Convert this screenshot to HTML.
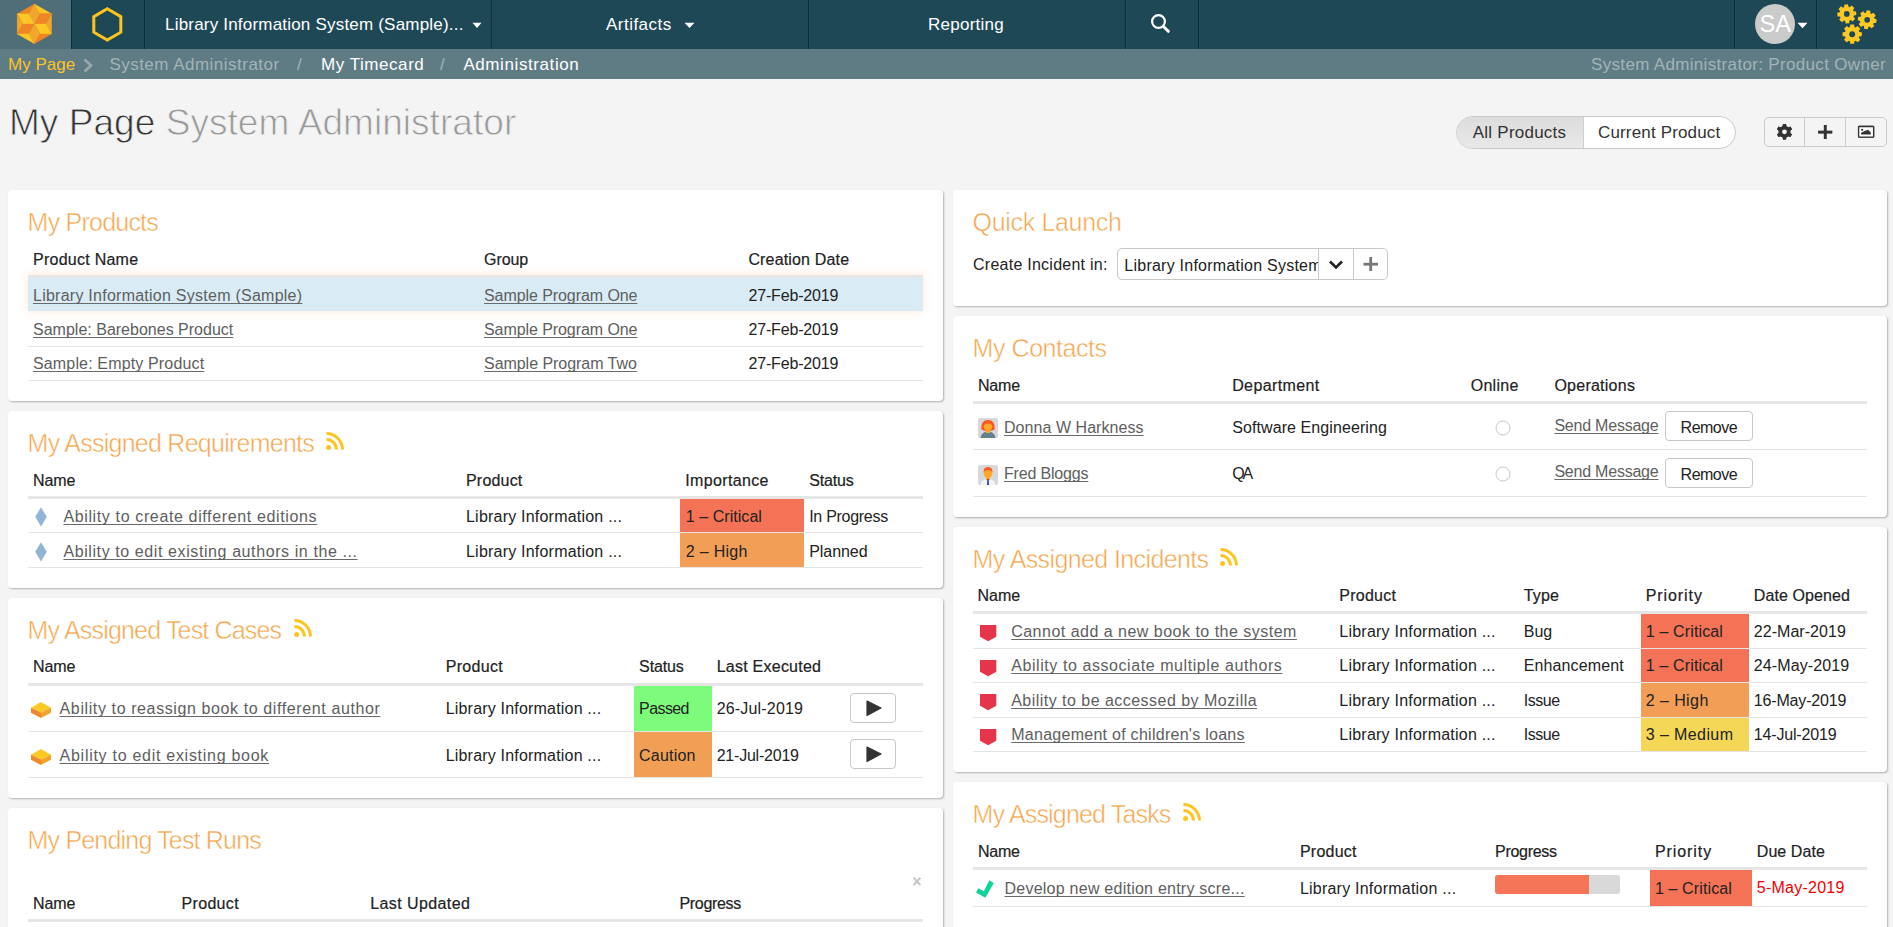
<!DOCTYPE html><html><head><meta charset="utf-8"><style>
html,body{margin:0;padding:0;}
body{width:1893px;height:927px;overflow:hidden;background:#f4f4f4;position:relative;font-family:"Liberation Sans",sans-serif;}
.a{position:absolute;}
.t{position:absolute;white-space:nowrap;}
.lk{text-decoration:underline;text-decoration-color:#6a6a6a;text-underline-offset:2px;text-decoration-skip-ink:none;}
.hd{-webkit-text-stroke:0.2px #222;}
.panel{position:absolute;background:#fff;border-radius:4px;box-shadow:1px 1px 2px rgba(0,0,0,0.28);}
</style></head><body>
<div class="a" style="left:0px;top:0px;width:1893px;height:49px;background:#1f4857;"></div>
<div class="a" style="left:0px;top:0px;width:71px;height:49px;background:#4f6e78;"></div>
<div class="a" style="left:71px;top:0px;width:1px;height:49px;background:#07303e;"></div>
<div class="a" style="left:144px;top:0px;width:1px;height:49px;background:#07303e;"></div>
<div class="a" style="left:145px;top:0px;width:1px;height:49px;background:#224c5a;"></div>
<div class="a" style="left:491px;top:0px;width:1px;height:49px;background:#07303e;"></div>
<div class="a" style="left:492px;top:0px;width:1px;height:49px;background:#224c5a;"></div>
<div class="a" style="left:808px;top:0px;width:1px;height:49px;background:#07303e;"></div>
<div class="a" style="left:809px;top:0px;width:1px;height:49px;background:#224c5a;"></div>
<div class="a" style="left:1125px;top:0px;width:1px;height:49px;background:#07303e;"></div>
<div class="a" style="left:1126px;top:0px;width:1px;height:49px;background:#224c5a;"></div>
<div class="a" style="left:1198px;top:0px;width:1px;height:49px;background:#07303e;"></div>
<div class="a" style="left:1199px;top:0px;width:1px;height:49px;background:#224c5a;"></div>
<div class="a" style="left:1734px;top:0px;width:1px;height:49px;background:#07303e;"></div>
<div class="a" style="left:1735px;top:0px;width:1px;height:49px;background:#224c5a;"></div>
<div class="a" style="left:1816px;top:0px;width:1px;height:49px;background:#07303e;"></div>
<div class="a" style="left:1817px;top:0px;width:1px;height:49px;background:#224c5a;"></div>
<svg class="a" style="left:10px;top:0px" width="50" height="49" viewBox="0 0 50 49"><polygon points="24.4,4.0 7.2,13.7 18.7,13.7" fill="#f08524" stroke="#f08524" stroke-width="0.3"/><polygon points="24.4,4.0 18.7,13.7 24.4,23.9 30.1,13.7" fill="#f3a62c" stroke="#f3a62c" stroke-width="0.3"/><polygon points="24.4,4.0 41.6,13.7 30.1,13.7" fill="#fdc724" stroke="#fdc724" stroke-width="0.3"/><polygon points="7.2,13.7 18.7,13.7 24.4,23.9 12.9,23.9" fill="#fdc724" stroke="#fdc724" stroke-width="0.3"/><polygon points="30.1,13.7 41.6,13.7 35.9,23.9 24.4,23.9" fill="#f08524" stroke="#f08524" stroke-width="0.3"/><polygon points="7.2,13.7 12.9,23.9 7.2,33.9" fill="#f3a62c" stroke="#f3a62c" stroke-width="0.3"/><polygon points="41.6,13.7 41.6,33.9 35.9,23.9" fill="#f3a62c" stroke="#f3a62c" stroke-width="0.3"/><polygon points="12.9,23.9 24.4,23.9 18.7,33.9 7.2,33.9" fill="#f08524" stroke="#f08524" stroke-width="0.3"/><polygon points="24.4,23.9 35.9,23.9 41.6,33.9 30.1,33.9" fill="#fdc724" stroke="#fdc724" stroke-width="0.3"/><polygon points="24.4,23.9 30.1,33.9 24.4,43.8 18.7,33.9" fill="#f3a62c" stroke="#f3a62c" stroke-width="0.3"/><polygon points="7.2,33.9 18.7,33.9 24.4,43.8" fill="#fdc724" stroke="#fdc724" stroke-width="0.3"/><polygon points="30.1,33.9 41.6,33.9 24.4,43.8" fill="#f08524" stroke="#f08524" stroke-width="0.3"/></svg>
<svg class="a" style="left:88px;top:0px" width="40" height="49" viewBox="0 0 40 49"><polygon points="19.30,8.80 32.81,16.60 32.81,32.20 19.30,40.00 5.79,32.20 5.79,16.60" fill="none" stroke="#fdc41e" stroke-width="3"/></svg>
<div class="t" style="left:165px;top:15.61px;font-size:17px;line-height:17px;color:#fff;letter-spacing:0.2px;">Library Information System (Sample)...</div>
<svg class="a" style="left:472px;top:22px" width="10" height="7" viewBox="0 0 10 7"><polygon points="0.5,0.8 9.5,0.8 5,6" fill="#fff"/></svg>
<div class="t" style="left:606px;top:15.61px;font-size:17px;line-height:17px;color:#fff;letter-spacing:0.48px;">Artifacts</div>
<svg class="a" style="left:684px;top:22px" width="11" height="7" viewBox="0 0 11 7"><polygon points="0.5,0.8 10.5,0.8 5.5,6" fill="#fff"/></svg>
<div class="t" style="left:928px;top:15.61px;font-size:17px;line-height:17px;color:#fff;letter-spacing:0.26px;">Reporting</div>
<svg class="a" style="left:1148px;top:12px" width="26" height="24" viewBox="0 0 26 24"><circle cx="10.5" cy="9.5" r="6.4" fill="none" stroke="#fff" stroke-width="2.2"/><line x1="15.2" y1="14.2" x2="20.3" y2="19.3" stroke="#fff" stroke-width="3" stroke-linecap="round"/></svg>
<div class="a" style="left:1755px;top:4px;width:40px;height:40px;border-radius:50%;background:#cbcbcb;"></div>
<div class="t" style="left:1759.5px;top:13.11px;font-size:23.5px;line-height:23.5px;color:#fff;letter-spacing:0px;">SA</div>
<svg class="a" style="left:1797px;top:22px" width="11" height="7" viewBox="0 0 11 7"><polygon points="0.5,0.8 10.5,0.8 5.5,6.2" fill="#fff"/></svg>
<svg class="a" style="left:1830px;top:0px" width="50" height="49" viewBox="0 0 50 49"><path d="M23.76,11.70 L26.22,12.03 L26.22,15.77 L23.76,16.10 L23.27,17.26 L24.78,19.23 L22.13,21.88 L20.16,20.37 L19.00,20.86 L18.67,23.32 L14.93,23.32 L14.60,20.86 L13.44,20.37 L11.47,21.88 L8.82,19.23 L10.33,17.26 L9.84,16.10 L7.38,15.77 L7.38,12.03 L9.84,11.70 L10.33,10.54 L8.82,8.57 L11.47,5.92 L13.44,7.43 L14.60,6.94 L14.93,4.48 L18.67,4.48 L19.00,6.94 L20.16,7.43 L22.13,5.92 L24.78,8.57 L23.27,10.54Z" fill="#fcc823" transform="rotate(-4 16.799999999999955 13.9)"/><circle cx="16.799999999999955" cy="13.9" r="2.88" fill="#1f4857"/><path d="M44.08,17.62 L46.52,17.95 L46.52,21.65 L44.08,21.98 L43.61,23.13 L45.10,25.08 L42.48,27.70 L40.53,26.21 L39.38,26.68 L39.05,29.12 L35.35,29.12 L35.02,26.68 L33.87,26.21 L31.92,27.70 L29.30,25.08 L30.79,23.13 L30.32,21.98 L27.88,21.65 L27.88,17.95 L30.32,17.62 L30.79,16.47 L29.30,14.52 L31.92,11.90 L33.87,13.39 L35.02,12.92 L35.35,10.48 L39.05,10.48 L39.38,12.92 L40.53,13.39 L42.48,11.90 L45.10,14.52 L43.61,16.47Z" fill="#fcc823" transform="rotate(8 37.200000000000045 19.8)"/><circle cx="37.200000000000045" cy="19.8" r="2.85" fill="#1f4857"/><path d="M29.30,31.95 L31.81,32.29 L31.81,36.11 L29.30,36.45 L28.81,37.63 L30.35,39.64 L27.64,42.35 L25.63,40.81 L24.45,41.30 L24.11,43.81 L20.29,43.81 L19.95,41.30 L18.77,40.81 L16.76,42.35 L14.05,39.64 L15.59,37.63 L15.10,36.45 L12.59,36.11 L12.59,32.29 L15.10,31.95 L15.59,30.77 L14.05,28.76 L16.76,26.05 L18.77,27.59 L19.95,27.10 L20.29,24.59 L24.11,24.59 L24.45,27.10 L25.63,27.59 L27.64,26.05 L30.35,28.76 L28.81,30.77Z" fill="#fcc823" transform="rotate(0 22.200000000000045 34.2)"/><circle cx="22.200000000000045" cy="34.2" r="2.94" fill="#1f4857"/></svg>
<div class="a" style="left:0px;top:49px;width:1893px;height:30px;background:#5f7c85;"></div>
<div class="t" style="left:8px;top:55.81px;font-size:17px;line-height:17px;color:#fdc326;letter-spacing:0px;">My Page</div>
<svg class="a" style="left:82px;top:58px" width="12" height="15" viewBox="0 0 12 15"><polyline points="2.5,1.5 9,7.5 2.5,13.5" fill="none" stroke="#9aa9ab" stroke-width="2.6"/></svg>
<div class="t" style="left:109.4px;top:55.81px;font-size:17px;line-height:17px;color:#a3b3b6;letter-spacing:0.48px;">System Administrator</div>
<div class="t" style="left:297px;top:55.81px;font-size:17px;line-height:17px;color:#a3b3b6;letter-spacing:0px;">/</div>
<div class="t" style="left:321px;top:55.81px;font-size:17px;line-height:17px;color:#fff;letter-spacing:0.55px;">My Timecard</div>
<div class="t" style="left:440px;top:55.81px;font-size:17px;line-height:17px;color:#a3b3b6;letter-spacing:0px;">/</div>
<div class="t" style="left:463.4px;top:55.81px;font-size:17px;line-height:17px;color:#fff;letter-spacing:0.59px;">Administration</div>
<div class="t" style="right:7px;top:55.81px;font-size:17px;line-height:17px;color:#a3b3b6;letter-spacing:0.33px;">System Administrator: Product Owner</div>
<div class="t" style="left:9px;top:103.98px;font-size:37px;line-height:37px;letter-spacing:0.05px;color:#333;-webkit-text-stroke:0.8px #f4f4f4;">My Page <span style="color:#999">System Administrator</span></div>
<div class="a" style="left:1456px;top:116px;width:278px;height:31px;border:1px solid #c9c9c9;border-radius:17px;background:#fff;overflow:hidden;"><div class="a" style="left:0;top:0;width:126px;height:31px;background:linear-gradient(#dcdcdc,#e9e9e9);border-right:1px solid #d0d0d0;"></div></div>
<div class="t" style="left:1472.8px;top:123.81px;font-size:17px;line-height:17px;color:#333;letter-spacing:0.23px;">All Products</div>
<div class="t" style="left:1598px;top:123.81px;font-size:17px;line-height:17px;color:#333;letter-spacing:0.16px;">Current Product</div>
<div class="a" style="left:1764px;top:117px;width:121px;height:28px;border:1px solid #cbcbcb;border-radius:5px;"></div>
<div class="a" style="left:1804px;top:118px;width:1px;height:28px;background:#cbcbcb;"></div>
<div class="a" style="left:1845px;top:118px;width:1px;height:28px;background:#cbcbcb;"></div>
<svg class="a" style="left:1774px;top:121px" width="21" height="21" viewBox="0 0 21 21"><path d="M8.65,5.30 L8.94,3.06 L12.06,3.06 L12.35,5.30 L14.34,6.45 L16.43,5.58 L17.99,8.28 L16.19,9.65 L16.19,11.95 L17.99,13.32 L16.43,16.02 L14.34,15.15 L12.35,16.30 L12.06,18.54 L8.94,18.54 L8.65,16.30 L6.66,15.15 L4.57,16.02 L3.01,13.32 L4.81,11.95 L4.81,9.65 L3.01,8.28 L4.57,5.58 L6.66,6.45Z" fill="#333"/><circle cx="10.5" cy="10.8" r="5.68" fill="#333"/><circle cx="10.5" cy="10.8" r="2.4" fill="#f4f4f4"/></svg>
<svg class="a" style="left:1816px;top:123px" width="19" height="19" viewBox="0 0 19 19"><rect x="7.9" y="2" width="2.6" height="14" fill="#333"/><rect x="2.2" y="7.8" width="14" height="2.6" fill="#333"/></svg>
<svg class="a" style="left:1856px;top:124px" width="20" height="16" viewBox="0 0 20 16"><rect x="2.6" y="2.5" width="15" height="10.7" rx="0.6" fill="#fff" stroke="#333" stroke-width="1.3"/><circle cx="6.2" cy="5.8" r="1.1" fill="#333"/><polygon points="5.1,10.6 5.1,8.8 7.6,7.6 12,5.8 14.8,8.5 14.8,10.6" fill="#333"/></svg>
<svg class="a" style="left:1774px;top:121px" width="21" height="21" viewBox="0 0 21 21"><path d="M8.65,5.30 L8.94,3.06 L12.06,3.06 L12.35,5.30 L14.34,6.45 L16.43,5.58 L17.99,8.28 L16.19,9.65 L16.19,11.95 L17.99,13.32 L16.43,16.02 L14.34,15.15 L12.35,16.30 L12.06,18.54 L8.94,18.54 L8.65,16.30 L6.66,15.15 L4.57,16.02 L3.01,13.32 L4.81,11.95 L4.81,9.65 L3.01,8.28 L4.57,5.58 L6.66,6.45Z" fill="#333"/><circle cx="10.5" cy="10.8" r="5.68" fill="#333"/><circle cx="10.5" cy="10.8" r="2.4" fill="#f4f4f4"/></svg>
<svg class="a" style="left:1816px;top:123px" width="19" height="19" viewBox="0 0 19 19"><rect x="7.9" y="2" width="2.6" height="14" fill="#333"/><rect x="2.2" y="7.8" width="14" height="2.6" fill="#333"/></svg>
<svg class="a" style="left:1856px;top:124px" width="20" height="16" viewBox="0 0 20 16"><rect x="2.6" y="2.5" width="15" height="10.7" rx="0.6" fill="#fff" stroke="#333" stroke-width="1.3"/><circle cx="6.2" cy="5.8" r="1.1" fill="#333"/><polygon points="5.1,10.6 5.1,8.8 7.6,7.6 12,5.8 14.8,8.5 14.8,10.6" fill="#333"/></svg>
<div class="panel" style="left:8px;top:190px;width:935px;height:211px;"></div>
<div class="t" style="left:27.6px;top:210.34px;font-size:25px;line-height:25px;color:#f3a54b;letter-spacing:-0.7731640624999995px;-webkit-text-stroke:0.5px #fff;">My Products</div>
<div class="a" style="left:28px;top:275px;width:895px;height:36px;background:#d9ecf6;box-shadow:0 0 9px rgba(255,170,100,0.28);"></div>
<div class="t hd" style="left:33px;top:252.06px;font-size:16px;line-height:16px;color:#222;letter-spacing:0.25738636363636364px;">Product Name</div>
<div class="t hd" style="left:484px;top:252.06px;font-size:16px;line-height:16px;color:#222;letter-spacing:-0.06750000000000006px;">Group</div>
<div class="t hd" style="left:748.4px;top:252.06px;font-size:16px;line-height:16px;color:#222;letter-spacing:0.164895833333334px;">Creation Date</div>
<div class="a" style="left:28px;top:275px;width:895px;height:3px;background:#e6e6e6;"></div>
<div class="t lk" style="left:33px;top:288.06px;font-size:16px;line-height:16px;color:#5e5e5e;letter-spacing:0.25176470588235267px;">Library Information System (Sample)</div>
<div class="t lk" style="left:484px;top:288.06px;font-size:16px;line-height:16px;color:#5e5e5e;letter-spacing:-0.07294117647058944px;">Sample Program One</div>
<div class="t" style="left:748.4px;top:288.06px;font-size:16px;line-height:16px;color:#222;letter-spacing:-0.15212500000000062px;">27-Feb-2019</div>
<div class="t lk" style="left:33px;top:322.06px;font-size:16px;line-height:16px;color:#5e5e5e;letter-spacing:0.0073437499999999545px;">Sample: Barebones Product</div>
<div class="t lk" style="left:484px;top:322.06px;font-size:16px;line-height:16px;color:#5e5e5e;letter-spacing:-0.07294117647058944px;">Sample Program One</div>
<div class="t" style="left:748.4px;top:322.06px;font-size:16px;line-height:16px;color:#222;letter-spacing:-0.15212500000000062px;">27-Feb-2019</div>
<div class="a" style="left:28px;top:346px;width:895px;height:1px;background:#e4e4e4;"></div>
<div class="t lk" style="left:33px;top:356.06px;font-size:16px;line-height:16px;color:#5e5e5e;letter-spacing:0.15125000000000113px;">Sample: Empty Product</div>
<div class="t lk" style="left:484px;top:356.06px;font-size:16px;line-height:16px;color:#5e5e5e;letter-spacing:-0.044338235294118115px;">Sample Program Two</div>
<div class="t" style="left:748.4px;top:356.06px;font-size:16px;line-height:16px;color:#222;letter-spacing:-0.15212500000000062px;">27-Feb-2019</div>
<div class="a" style="left:28px;top:380px;width:895px;height:1px;background:#e4e4e4;"></div>
<div class="panel" style="left:8px;top:411px;width:935px;height:177px;"></div>
<div class="t" style="left:27.6px;top:431.34px;font-size:25px;line-height:25px;color:#f3a54b;letter-spacing:-0.7442764945652184px;-webkit-text-stroke:0.5px #fff;">My Assigned Requirements</div>
<svg class="a" style="left:325px;top:432px" width="20" height="20" viewBox="0 0 20 20"><circle cx="3.6" cy="15.4" r="2.5" fill="#fdc31f"/><path d="M1.5,7.6 A10,10 0 0 1 11.5,17.6" fill="none" stroke="#fdc31f" stroke-width="3"/><path d="M1.5,1.6 A16,16 0 0 1 17.5,17.6" fill="none" stroke="#fdc31f" stroke-width="3"/></svg>
<div class="t hd" style="left:33px;top:473.06px;font-size:16px;line-height:16px;color:#222;letter-spacing:-0.09374999999999904px;">Name</div>
<div class="t hd" style="left:466px;top:473.06px;font-size:16px;line-height:16px;color:#222;letter-spacing:0.19291666666666696px;">Product</div>
<div class="t hd" style="left:685.3px;top:473.06px;font-size:16px;line-height:16px;color:#222;letter-spacing:0.35097222222222224px;">Importance</div>
<div class="t hd" style="left:809.2px;top:473.06px;font-size:16px;line-height:16px;color:#222;letter-spacing:-0.15200000000000044px;">Status</div>
<div class="a" style="left:28px;top:496.3px;width:895px;height:3px;background:#e6e6e6;"></div>
<div class="a" style="left:680px;top:499px;width:124px;height:33px;background:#f47356;"></div>
<div class="a" style="left:680px;top:533px;width:124px;height:34px;background:#f29e56;"></div>
<svg class="a" style="left:35px;top:507px" width="12" height="20" viewBox="0 0 12 20"><polygon points="6,0.3 11.8,9.8 6,19.6 0.2,9.8" fill="#93b3d7"/></svg>
<div class="t lk" style="left:63.4px;top:509.26px;font-size:16px;line-height:16px;color:#5e5e5e;letter-spacing:0.6328571428571436px;">Ability to create different editions</div>
<div class="t" style="left:466px;top:509.26px;font-size:16px;line-height:16px;color:#222;letter-spacing:0.21477272727272648px;">Library Information ...</div>
<div class="t" style="left:685.8px;top:509.26px;font-size:16px;line-height:16px;color:#222;letter-spacing:0.047272727272727175px;">1 &#8211; Critical</div>
<div class="t" style="left:809.2px;top:509.26px;font-size:16px;line-height:16px;color:#222;letter-spacing:-0.28149999999999953px;">In Progress</div>
<div class="a" style="left:28px;top:532px;width:895px;height:1px;background:#e4e4e4;"></div>
<svg class="a" style="left:35px;top:542px" width="12" height="20" viewBox="0 0 12 20"><polygon points="6,0.3 11.8,9.8 6,19.6 0.2,9.8" fill="#93b3d7"/></svg>
<div class="t lk" style="left:63.4px;top:543.76px;font-size:16px;line-height:16px;color:#5e5e5e;letter-spacing:0.5955059523809526px;">Ability to edit existing authors in the ...</div>
<div class="t" style="left:466px;top:543.76px;font-size:16px;line-height:16px;color:#222;letter-spacing:0.21477272727272648px;">Library Information ...</div>
<div class="t" style="left:685.8px;top:543.76px;font-size:16px;line-height:16px;color:#222;letter-spacing:0.28642857142857114px;">2 &#8211; High</div>
<div class="t" style="left:809.2px;top:543.76px;font-size:16px;line-height:16px;color:#222;letter-spacing:-0.05354166666666604px;">Planned</div>
<div class="a" style="left:28px;top:567px;width:895px;height:1px;background:#e4e4e4;"></div>
<div class="panel" style="left:8px;top:598px;width:935px;height:200px;"></div>
<div class="t" style="left:27.6px;top:618.34px;font-size:25px;line-height:25px;color:#f3a54b;letter-spacing:-0.8282180059523802px;-webkit-text-stroke:0.5px #fff;">My Assigned Test Cases</div>
<svg class="a" style="left:293px;top:619px" width="20" height="20" viewBox="0 0 20 20"><circle cx="3.6" cy="15.4" r="2.5" fill="#fdc31f"/><path d="M1.5,7.6 A10,10 0 0 1 11.5,17.6" fill="none" stroke="#fdc31f" stroke-width="3"/><path d="M1.5,1.6 A16,16 0 0 1 17.5,17.6" fill="none" stroke="#fdc31f" stroke-width="3"/></svg>
<div class="t hd" style="left:33px;top:659.46px;font-size:16px;line-height:16px;color:#222;letter-spacing:-0.09374999999999904px;">Name</div>
<div class="t hd" style="left:445.7px;top:659.46px;font-size:16px;line-height:16px;color:#222;letter-spacing:0.3095833333333341px;">Product</div>
<div class="t hd" style="left:639.1px;top:659.46px;font-size:16px;line-height:16px;color:#222;letter-spacing:-0.13200000000000017px;">Status</div>
<div class="t hd" style="left:716.7px;top:659.46px;font-size:16px;line-height:16px;color:#222;letter-spacing:0.24166666666666617px;">Last Executed</div>
<div class="a" style="left:28px;top:683.3px;width:895px;height:3px;background:#e6e6e6;"></div>
<div class="a" style="left:634px;top:686px;width:78px;height:45px;background:#7cfc7a;"></div>
<div class="a" style="left:634px;top:732px;width:78px;height:45px;background:#f29f56;"></div>
<svg class="a" style="left:31px;top:702px" width="20" height="16" viewBox="0 0 20 16"><polygon points="10,0 20,5.8 10,10.5 0,5.8" fill="#fcc822"/><polygon points="0,5.8 10,10.5 10,16 0,10.8" fill="#f0872c"/><polygon points="10,10.5 20,5.8 20,10.8 10,16" fill="#f2a52b"/></svg>
<div class="t lk" style="left:59.6px;top:700.86px;font-size:16px;line-height:16px;color:#5e5e5e;letter-spacing:0.6068023255813945px;">Ability to reassign book to different author</div>
<div class="t" style="left:445.7px;top:700.86px;font-size:16px;line-height:16px;color:#222;letter-spacing:0.19204545454545377px;">Library Information ...</div>
<div class="t" style="left:639.1px;top:700.86px;font-size:16px;line-height:16px;color:#222;letter-spacing:-0.5937499999999994px;">Passed</div>
<div class="t" style="left:716.7px;top:700.86px;font-size:16px;line-height:16px;color:#222;letter-spacing:0.17962500000000034px;">26-Jul-2019</div>
<div class="a" style="left:850px;top:693px;width:44px;height:28px;border:1px solid #c8c8c8;border-radius:4px;background:#fff;"></div>
<svg class="a" style="left:865.5px;top:699.5px" width="17" height="17" viewBox="0 0 17 17"><polygon points="1,1 15,8 1,15.5" fill="#333" stroke="#333" stroke-width="1.2" stroke-linejoin="round"/></svg>
<div class="a" style="left:28px;top:731px;width:895px;height:1px;background:#e4e4e4;"></div>
<svg class="a" style="left:31px;top:748.5px" width="20" height="16" viewBox="0 0 20 16"><polygon points="10,0 20,5.8 10,10.5 0,5.8" fill="#fcc822"/><polygon points="0,5.8 10,10.5 10,16 0,10.8" fill="#f0872c"/><polygon points="10,10.5 20,5.8 20,10.8 10,16" fill="#f2a52b"/></svg>
<div class="t lk" style="left:59.6px;top:747.76px;font-size:16px;line-height:16px;color:#5e5e5e;letter-spacing:0.7196428571428569px;">Ability to edit existing book</div>
<div class="t" style="left:445.7px;top:747.76px;font-size:16px;line-height:16px;color:#222;letter-spacing:0.19204545454545377px;">Library Information ...</div>
<div class="t" style="left:639.1px;top:747.76px;font-size:16px;line-height:16px;color:#222;letter-spacing:0.20833333333333381px;">Caution</div>
<div class="t" style="left:716.7px;top:747.76px;font-size:16px;line-height:16px;color:#222;letter-spacing:-0.22037499999999968px;">21-Jul-2019</div>
<div class="a" style="left:850px;top:739px;width:44px;height:28px;border:1px solid #c8c8c8;border-radius:4px;background:#fff;"></div>
<svg class="a" style="left:865.5px;top:745.5px" width="17" height="17" viewBox="0 0 17 17"><polygon points="1,1 15,8 1,15.5" fill="#333" stroke="#333" stroke-width="1.2" stroke-linejoin="round"/></svg>
<div class="a" style="left:28px;top:777px;width:895px;height:1px;background:#e4e4e4;"></div>
<div class="panel" style="left:8px;top:808px;width:935px;height:160px;"></div>
<div class="t" style="left:27.6px;top:828.34px;font-size:25px;line-height:25px;color:#f3a54b;letter-spacing:-0.8145148026315786px;-webkit-text-stroke:0.5px #fff;">My Pending Test Runs</div>
<svg class="a" style="left:911px;top:875px" width="12" height="13" viewBox="0 0 12 13"><path d="M2.6,2.6 L9.4,10.2 M9.4,2.6 L2.6,10.2" stroke="#c4c4c4" stroke-width="2"/></svg>
<div class="t hd" style="left:33px;top:896.06px;font-size:16px;line-height:16px;color:#222;letter-spacing:-0.09374999999999904px;">Name</div>
<div class="t hd" style="left:181.5px;top:896.06px;font-size:16px;line-height:16px;color:#222;letter-spacing:0.3262499999999998px;">Product</div>
<div class="t hd" style="left:370.2px;top:896.06px;font-size:16px;line-height:16px;color:#222;letter-spacing:0.4107954545454545px;">Last Updated</div>
<div class="t hd" style="left:679.5px;top:896.06px;font-size:16px;line-height:16px;color:#222;letter-spacing:-0.33232142857142943px;">Progress</div>
<div class="a" style="left:28px;top:919.3px;width:895px;height:3px;background:#e6e6e6;"></div>
<div class="panel" style="left:953px;top:190px;width:934px;height:116px;"></div>
<div class="t" style="left:972.6px;top:210.34px;font-size:25px;line-height:25px;color:#f3a54b;letter-spacing:-0.33373579545454496px;-webkit-text-stroke:0.5px #fff;">Quick Launch</div>
<div class="t" style="left:973px;top:257.26px;font-size:16px;line-height:16px;color:#222;letter-spacing:0.2525694444444446px;">Create Incident in:</div>
<div class="a" style="left:1117px;top:248px;width:269px;height:30px;border:1px solid #c8c8c8;border-radius:5px;background:#fff;overflow:hidden;"></div>
<div class="a" style="left:1118px;top:249px;width:200px;height:30px;overflow:hidden;">
<div class="t" style="left:6.3px;top:8.56px;font-size:16px;line-height:16px;color:#222;letter-spacing:0.24294117647058766px;">Library Information System (Sample)</div>
</div>
<div class="a" style="left:1318px;top:249px;width:1px;height:30px;background:#c8c8c8;"></div>
<div class="a" style="left:1353px;top:249px;width:1px;height:30px;background:#c8c8c8;"></div>
<svg class="a" style="left:1328px;top:259px" width="16" height="12" viewBox="0 0 16 12"><polyline points="2,2.5 8,8.5 14,2.5" fill="none" stroke="#222" stroke-width="2.6"/></svg>
<svg class="a" style="left:1362px;top:256px" width="17" height="16" viewBox="0 0 17 16"><rect x="7.3" y="1" width="2.8" height="14" fill="#777"/><rect x="1.5" y="6.8" width="14.5" height="2.8" fill="#777"/></svg>
<div class="panel" style="left:953px;top:316px;width:934px;height:201px;"></div>
<div class="t" style="left:972.6px;top:336.34px;font-size:25px;line-height:25px;color:#f3a54b;letter-spacing:-0.4429687499999983px;-webkit-text-stroke:0.5px #fff;">My Contacts</div>
<div class="t hd" style="left:978px;top:378.06px;font-size:16px;line-height:16px;color:#222;letter-spacing:-0.19375000000000045px;">Name</div>
<div class="t hd" style="left:1232.2px;top:378.06px;font-size:16px;line-height:16px;color:#222;letter-spacing:0.378194444444445px;">Department</div>
<div class="t hd" style="left:1470.7px;top:378.06px;font-size:16px;line-height:16px;color:#222;letter-spacing:0.26974999999999966px;">Online</div>
<div class="t hd" style="left:1554.4px;top:378.06px;font-size:16px;line-height:16px;color:#222;letter-spacing:0.24805555555555603px;">Operations</div>
<div class="a" style="left:973px;top:401.3px;width:894px;height:3px;background:#e6e6e6;"></div>
<svg class="a" style="left:978px;top:418px" width="20" height="20" viewBox="0 0 20 20"><rect x="0" y="0" width="20" height="20" rx="2" fill="#d8d8d8"/><path d="M2.5,20 Q3,14 10,13.5 Q17,14 17.5,20Z" fill="#62808e"/><rect x="8" y="11" width="4" height="4" fill="#f7a531"/><path d="M3.3,11.5 Q2.6,2 10,2 Q17.4,2 16.7,11.5 Q14,13 10,13 Q6,13 3.3,11.5Z" fill="#ff5722"/><ellipse cx="10" cy="8.6" rx="4.2" ry="4.6" fill="#ffa726"/><path d="M5.2,7 Q6,3.2 10,3.3 Q14,3.2 14.8,7 Q12,5 10,5.5 Q8,5 5.2,7Z" fill="#ff5722"/></svg>
<div class="t lk" style="left:1004px;top:420.06px;font-size:16px;line-height:16px;color:#5e5e5e;letter-spacing:0.05191666666666606px;">Donna W Harkness</div>
<div class="t" style="left:1232.2px;top:420.06px;font-size:16px;line-height:16px;color:#222;letter-spacing:0.08999999999999982px;">Software Engineering</div>
<svg class="a" style="left:1494.5px;top:420.2px" width="16" height="16" viewBox="0 0 16 16"><circle cx="8" cy="8" r="7" fill="#fff" stroke="#c8c8c8" stroke-width="1"/></svg>
<div class="t lk" style="left:1554.4px;top:418.46px;font-size:16px;line-height:16px;color:#5e5e5e;letter-spacing:-0.22159090909090884px;">Send Message</div>
<div class="a" style="left:1665px;top:411px;width:86px;height:28px;border:1px solid #c8c8c8;border-radius:4px;background:#fff;"></div>
<div class="t" style="left:1680.6px;top:420.06px;font-size:16px;line-height:16px;color:#222;letter-spacing:-0.5159999999999991px;">Remove</div>
<div class="a" style="left:973px;top:449px;width:894px;height:1px;background:#e4e4e4;"></div>
<svg class="a" style="left:978px;top:465px" width="20" height="20" viewBox="0 0 20 20"><rect x="0" y="0" width="20" height="20" rx="2" fill="#d8d8d8"/><path d="M2.5,20 Q3,14.5 10,14 Q17,14.5 17.5,20Z" fill="#f4f4f4"/><rect x="8" y="11" width="4" height="4" fill="#f7a531"/><polygon points="9.2,14 10.8,14 11,20 9,20" fill="#3949ab"/><ellipse cx="10" cy="8.5" rx="4.2" ry="4.5" fill="#ffa726"/><path d="M5.6,8 Q5,2 10,2 Q15,2 14.4,8 Q13.5,5 10,5 Q6.5,5 5.6,8Z" fill="#ff5722"/></svg>
<div class="t lk" style="left:1004px;top:466.06px;font-size:16px;line-height:16px;color:#5e5e5e;letter-spacing:-0.17687499999999942px;">Fred Bloggs</div>
<div class="t" style="left:1232.2px;top:466.06px;font-size:16px;line-height:16px;color:#222;letter-spacing:-2.017499999999999px;">QA</div>
<svg class="a" style="left:1494.5px;top:466.2px" width="16" height="16" viewBox="0 0 16 16"><circle cx="8" cy="8" r="7" fill="#fff" stroke="#c8c8c8" stroke-width="1"/></svg>
<div class="t lk" style="left:1554.4px;top:464.46px;font-size:16px;line-height:16px;color:#5e5e5e;letter-spacing:-0.22159090909090884px;">Send Message</div>
<div class="a" style="left:1665px;top:458px;width:86px;height:28px;border:1px solid #c8c8c8;border-radius:4px;background:#fff;"></div>
<div class="t" style="left:1680.6px;top:467.06px;font-size:16px;line-height:16px;color:#222;letter-spacing:-0.5159999999999991px;">Remove</div>
<div class="a" style="left:973px;top:496px;width:894px;height:1px;background:#e4e4e4;"></div>
<div class="panel" style="left:953px;top:527px;width:934px;height:245px;"></div>
<div class="t" style="left:972.6px;top:547.34px;font-size:25px;line-height:25px;color:#f3a54b;letter-spacing:-0.6124023437499991px;-webkit-text-stroke:0.5px #fff;">My Assigned Incidents</div>
<svg class="a" style="left:1219px;top:548px" width="20" height="20" viewBox="0 0 20 20"><circle cx="3.6" cy="15.4" r="2.5" fill="#fdc31f"/><path d="M1.5,7.6 A10,10 0 0 1 11.5,17.6" fill="none" stroke="#fdc31f" stroke-width="3"/><path d="M1.5,1.6 A16,16 0 0 1 17.5,17.6" fill="none" stroke="#fdc31f" stroke-width="3"/></svg>
<div class="t hd" style="left:977.5px;top:588.06px;font-size:16px;line-height:16px;color:#222;letter-spacing:-0.027083333333333792px;">Name</div>
<div class="t hd" style="left:1339.3px;top:588.06px;font-size:16px;line-height:16px;color:#222;letter-spacing:0.24291666666666648px;">Product</div>
<div class="t hd" style="left:1523.8px;top:588.06px;font-size:16px;line-height:16px;color:#222;letter-spacing:0.10375000000000134px;">Type</div>
<div class="t hd" style="left:1645.8px;top:588.06px;font-size:16px;line-height:16px;color:#222;letter-spacing:0.9023214285714285px;">Priority</div>
<div class="t hd" style="left:1753.8px;top:588.06px;font-size:16px;line-height:16px;color:#222;letter-spacing:0.10187500000000001px;">Date Opened</div>
<div class="a" style="left:973px;top:611.3px;width:894px;height:3px;background:#e6e6e6;"></div>
<div class="a" style="left:1641px;top:614px;width:108px;height:34px;background:#f47356;"></div>
<svg class="a" style="left:980px;top:624.5px" width="17" height="17" viewBox="0 0 17 17"><polygon points="0,0 16.3,0 16.3,11.7 8.15,16.2 0,11.7" fill="#e5354a"/></svg>
<div class="t lk" style="left:1011.2px;top:624.06px;font-size:16px;line-height:16px;color:#5e5e5e;letter-spacing:0.4878676470588226px;">Cannot add a new book to the system</div>
<div class="t" style="left:1339.3px;top:624.06px;font-size:16px;line-height:16px;color:#222;letter-spacing:0.22840909090909065px;">Library Information ...</div>
<div class="t" style="left:1523.8px;top:624.06px;font-size:16px;line-height:16px;color:#222;letter-spacing:-0.08499999999999941px;">Bug</div>
<div class="t" style="left:1645.8px;top:624.06px;font-size:16px;line-height:16px;color:#222;letter-spacing:0.13818181818181807px;">1 &#8211; Critical</div>
<div class="t" style="left:1753.8px;top:624.06px;font-size:16px;line-height:16px;color:#222;letter-spacing:0.03937500000000001px;">22-Mar-2019</div>
<div class="a" style="left:973px;top:648px;width:894px;height:1px;background:#e4e4e4;"></div>
<div class="a" style="left:1641px;top:649px;width:108px;height:33px;background:#f47356;"></div>
<svg class="a" style="left:980px;top:659.5px" width="17" height="17" viewBox="0 0 17 17"><polygon points="0,0 16.3,0 16.3,11.7 8.15,16.2 0,11.7" fill="#e5354a"/></svg>
<div class="t lk" style="left:1011.2px;top:658.26px;font-size:16px;line-height:16px;color:#5e5e5e;letter-spacing:0.5748958333333336px;">Ability to associate multiple authors</div>
<div class="t" style="left:1339.3px;top:658.26px;font-size:16px;line-height:16px;color:#222;letter-spacing:0.22840909090909065px;">Library Information ...</div>
<div class="t" style="left:1523.8px;top:658.26px;font-size:16px;line-height:16px;color:#222;letter-spacing:0.10625000000000029px;">Enhancement</div>
<div class="t" style="left:1645.8px;top:658.26px;font-size:16px;line-height:16px;color:#222;letter-spacing:0.13818181818181807px;">1 &#8211; Critical</div>
<div class="t" style="left:1753.8px;top:658.26px;font-size:16px;line-height:16px;color:#222;letter-spacing:0.1122499999999991px;">24-May-2019</div>
<div class="a" style="left:973px;top:682px;width:894px;height:1px;background:#e4e4e4;"></div>
<div class="a" style="left:1641px;top:683px;width:108px;height:34px;background:#f29e56;"></div>
<svg class="a" style="left:980px;top:693.5px" width="17" height="17" viewBox="0 0 17 17"><polygon points="0,0 16.3,0 16.3,11.7 8.15,16.2 0,11.7" fill="#e5354a"/></svg>
<div class="t lk" style="left:1011.2px;top:692.76px;font-size:16px;line-height:16px;color:#5e5e5e;letter-spacing:0.4708593749999995px;">Ability to be accessed by Mozilla</div>
<div class="t" style="left:1339.3px;top:692.76px;font-size:16px;line-height:16px;color:#222;letter-spacing:0.22840909090909065px;">Library Information ...</div>
<div class="t" style="left:1523.8px;top:692.76px;font-size:16px;line-height:16px;color:#222;letter-spacing:-0.46062499999999956px;">Issue</div>
<div class="t" style="left:1645.8px;top:692.76px;font-size:16px;line-height:16px;color:#222;letter-spacing:0.41500000000000054px;">2 &#8211; High</div>
<div class="t" style="left:1753.8px;top:692.76px;font-size:16px;line-height:16px;color:#222;letter-spacing:-0.16775000000000062px;">16-May-2019</div>
<div class="a" style="left:973px;top:717px;width:894px;height:1px;background:#e4e4e4;"></div>
<div class="a" style="left:1641px;top:718px;width:108px;height:33px;background:#f4d757;"></div>
<svg class="a" style="left:980px;top:728.5px" width="17" height="17" viewBox="0 0 17 17"><polygon points="0,0 16.3,0 16.3,11.7 8.15,16.2 0,11.7" fill="#e5354a"/></svg>
<div class="t lk" style="left:1011.2px;top:726.96px;font-size:16px;line-height:16px;color:#5e5e5e;letter-spacing:0.2719827586206898px;">Management of children's loans</div>
<div class="t" style="left:1339.3px;top:726.96px;font-size:16px;line-height:16px;color:#222;letter-spacing:0.22840909090909065px;">Library Information ...</div>
<div class="t" style="left:1523.8px;top:726.96px;font-size:16px;line-height:16px;color:#222;letter-spacing:-0.46062499999999956px;">Issue</div>
<div class="t" style="left:1645.8px;top:726.96px;font-size:16px;line-height:16px;color:#222;letter-spacing:0.40041666666666753px;">3 &#8211; Medium</div>
<div class="t" style="left:1753.8px;top:726.96px;font-size:16px;line-height:16px;color:#222;letter-spacing:-0.17037499999999967px;">14-Jul-2019</div>
<div class="a" style="left:973px;top:751px;width:894px;height:1px;background:#e4e4e4;"></div>
<div class="panel" style="left:953px;top:782px;width:934px;height:200px;"></div>
<div class="t" style="left:972.6px;top:802.34px;font-size:25px;line-height:25px;color:#f3a54b;letter-spacing:-0.8399169921874996px;-webkit-text-stroke:0.5px #fff;">My Assigned Tasks</div>
<svg class="a" style="left:1182px;top:803px" width="20" height="20" viewBox="0 0 20 20"><circle cx="3.6" cy="15.4" r="2.5" fill="#fdc31f"/><path d="M1.5,7.6 A10,10 0 0 1 11.5,17.6" fill="none" stroke="#fdc31f" stroke-width="3"/><path d="M1.5,1.6 A16,16 0 0 1 17.5,17.6" fill="none" stroke="#fdc31f" stroke-width="3"/></svg>
<div class="t hd" style="left:977.9px;top:844.06px;font-size:16px;line-height:16px;color:#222;letter-spacing:-0.19375000000000045px;">Name</div>
<div class="t hd" style="left:1299.9px;top:844.06px;font-size:16px;line-height:16px;color:#222;letter-spacing:0.24291666666666648px;">Product</div>
<div class="t hd" style="left:1495px;top:844.06px;font-size:16px;line-height:16px;color:#222;letter-spacing:-0.289464285714286px;">Progress</div>
<div class="t hd" style="left:1654.9px;top:844.06px;font-size:16px;line-height:16px;color:#222;letter-spacing:0.9308928571428574px;">Priority</div>
<div class="t hd" style="left:1756.8px;top:844.06px;font-size:16px;line-height:16px;color:#222;letter-spacing:0.05785714285714343px;">Due Date</div>
<div class="a" style="left:973px;top:867.2px;width:894px;height:3px;background:#e6e6e6;"></div>
<div class="a" style="left:1650px;top:870px;width:102px;height:36px;background:#f47356;"></div>
<svg class="a" style="left:976px;top:880px" width="18" height="18" viewBox="0 0 18 18"><polygon points="13.4,0.2 17.8,2.9 9.4,17.7 0,12.5 2.3,8.3 7.8,11.2" fill="#0fd39a"/></svg>
<div class="t lk" style="left:1004.5px;top:881.26px;font-size:16px;line-height:16px;color:#5e5e5e;letter-spacing:0.2430859374999997px;">Develop new edition entry scre...</div>
<div class="t" style="left:1299.9px;top:881.26px;font-size:16px;line-height:16px;color:#222;letter-spacing:0.22840909090909065px;">Library Information ...</div>
<div class="a" style="left:1495px;top:875px;width:125px;height:19px;border-radius:3px;background:#d9d9d9;overflow:hidden;"><div class="a" style="left:0;top:0;width:94px;height:19px;background:#f47558;"></div></div>
<div class="t" style="left:1654.9px;top:881.26px;font-size:16px;line-height:16px;color:#222;letter-spacing:0.1290909090909095px;">1 &#8211; Critical</div>
<div class="t" style="left:1756.8px;top:880.26px;font-size:16px;line-height:16px;color:#f20000;letter-spacing:0.23569444444444512px;">5-May-2019</div>
<div class="a" style="left:973px;top:906px;width:894px;height:1px;background:#e4e4e4;"></div></body></html>
